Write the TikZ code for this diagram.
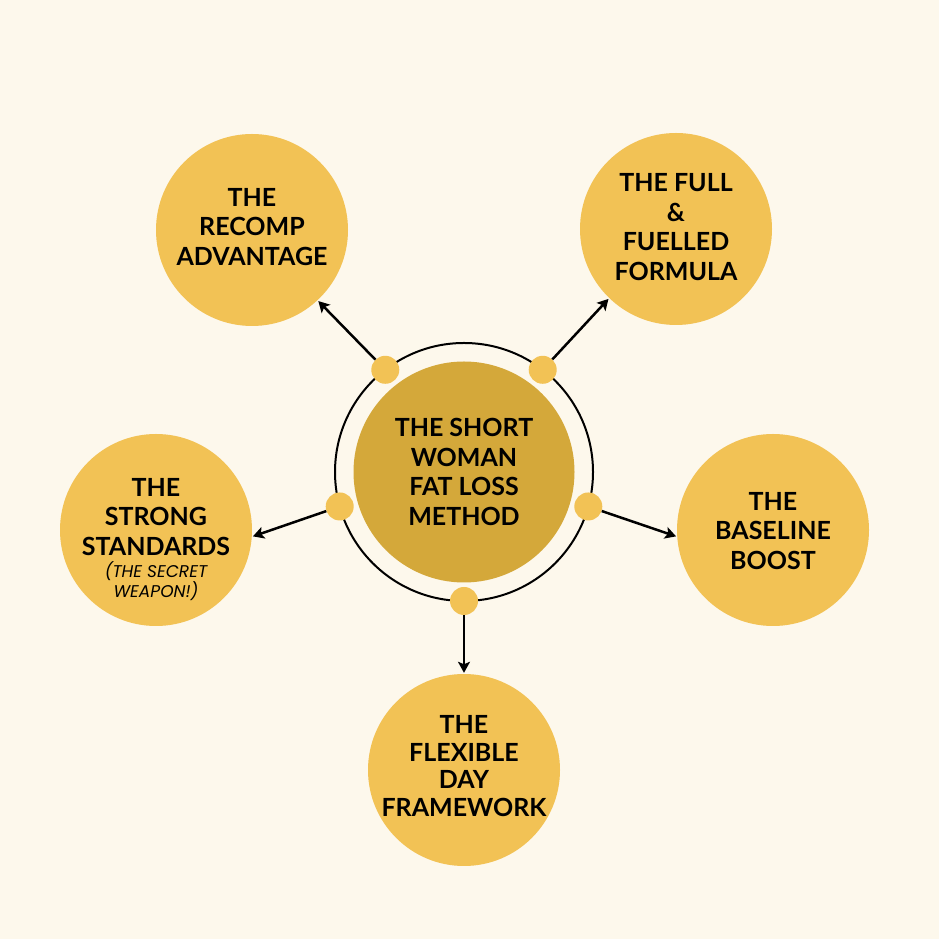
\documentclass[tikz,border=0pt]{standalone}
\usepackage{fontspec}
\setmainfont{Lato}
\newfontfamily\subfont{Poppins}
\usetikzlibrary{arrows.meta, calc}

\definecolor{paper}{HTML}{FDF8EC}
\definecolor{honey}{HTML}{F2C255}
\definecolor{mustard}{HTML}{D4A83A}

\tikzset{
    bubble/.style={circle, fill=honey, minimum size=192pt, inner sep=0pt},
    hub/.style={circle, fill=mustard, minimum size=221pt, inner sep=0pt},
    knob/.style={circle, fill=honey, minimum size=28pt, inner sep=0pt},
    caption/.style={align=center, inner sep=0pt, font=\bfseries\fontsize{25}{29.5}\selectfont},
    subcaption/.style={align=center, inner sep=0pt, font=\subfont\itshape\fontsize{17}{18.5}\selectfont},
    link/.style={line width=2.5pt, -{Stealth[length=11pt,width=12pt,inset=2.5pt]}, shorten >=1pt}
}

\begin{document}
\begin{tikzpicture}[x=1pt,y=1pt]
    % Background
    \fill[paper] (0,0) rectangle (939,939);
    \useasboundingbox (0,0) rectangle (939,939);

    % Central hub with ring
    \node[hub] (hub) at (464,467) {};
    \draw[line width=2pt] (hub.center) circle (129);
    \node[caption] (hub-t) at (hub) {THE SHORT\\WOMAN\\FAT LOSS\\METHOD};

    % Knobs on the ring
    \foreach \name/\ang in {kr/127.6, kf/52.4, ks/195.5, kb/-15.5, kd/270}
        \node[knob] (\name) at ($(hub.center)+(\ang:129)$) {};

    % Outer bubbles
    \node[bubble] (recomp) at (252,709) {};
    \node[caption] (recomp-t) at (252,712) {THE\\RECOMP\\ADVANTAGE};

    \node[bubble] (full) at (676,710) {};
    \node[caption] (full-t) at (676,712) {THE FULL\\\&\\FUELLED\\FORMULA};

    \node[bubble] (strong) at (156,409) {};
    \node[caption] (strong-t) at (156,422) {THE\\STRONG\\STANDARDS};
    \node[subcaption] (strong-s) at (156,358) {(THE SECRET\\WEAPON!)};

    \node[bubble] (baseline) at (773,409) {};
    \node[caption] (baseline-t) at (773,408) {THE\\BASELINE\\BOOST};

    \node[bubble] (flex) at (464,169) {};
    \node[caption, font=\bfseries\fontsize{25}{27.5}\selectfont] (flex-t) at (464,173) {THE\\FLEXIBLE\\DAY\\FRAMEWORK};

    % Arrows from knobs to bubbles
    \draw[link] (kr) -- (recomp.-47.5);
    \draw[link] (kf) -- (full.226.6);
    \draw[link] (ks) -- (strong.-4);
    \draw[link] (kb) -- (baseline.184);
    \draw[link] (kd) -- (flex.north);
\end{tikzpicture}
\end{document}
